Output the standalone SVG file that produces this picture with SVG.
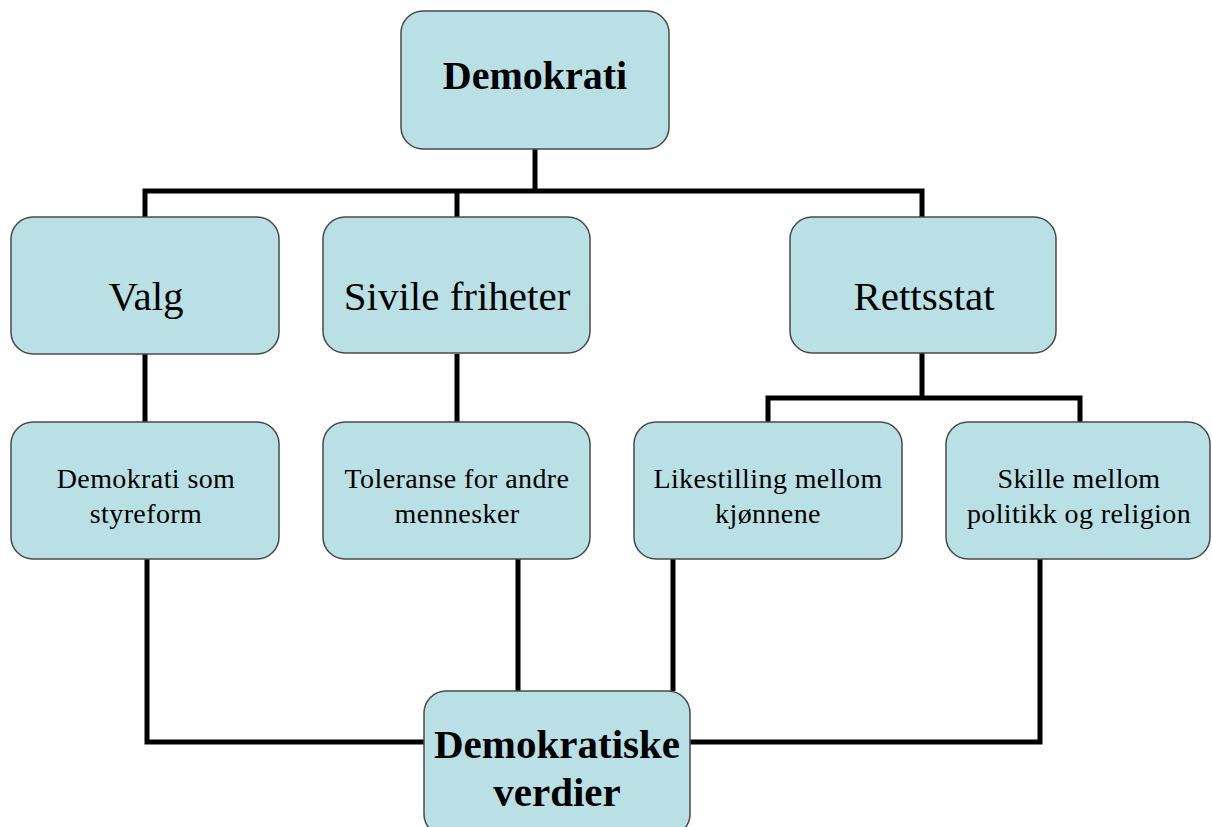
<svg xmlns="http://www.w3.org/2000/svg" width="1212" height="827" viewBox="0 0 1212 827">
<style>
.box{fill:#b9e0e4;stroke:#4a4a4a;stroke-width:1.5}
.con{fill:none;stroke:#000;stroke-width:5;stroke-linejoin:miter}
text{font-family:"Liberation Serif","Times New Roman",serif;fill:#000;text-anchor:middle}
.b{font-weight:bold;font-size:40px}
.big{font-size:41px}
.sm{font-size:28px;letter-spacing:0.4px}
</style>
<rect width="1212" height="827" fill="#fff"/>
<g id="connectors">
<path class="con" d="M535,149 V191 M145,217 V191 H922 V217 M457,191 V217"/>
<path class="con" d="M145,354 V422 M457,354 V422"/>
<path class="con" d="M922,353 V398 M768,422 V398 H1080 V422"/>
<path class="con" d="M147,559 V742 H424 M1040,559 V742 H690"/>
<path class="con" d="M518,559 V691 M673,559 V691"/>
</g>
<g id="demokrati"><rect class="box" x="401" y="11" width="268" height="138" rx="22"/><text class="b" x="535" y="89">Demokrati</text></g>
<g id="valg"><rect class="box" x="11" y="217" width="268" height="137" rx="22"/><text class="big" x="146" y="310">Valg</text></g>
<g id="sivile"><rect class="box" x="323" y="217" width="267" height="136" rx="22"/><text class="big" x="457" y="310">Sivile friheter</text></g>
<g id="rettsstat"><rect class="box" x="790" y="217" width="266" height="136" rx="22"/><text class="big" x="924" y="310">Rettsstat</text></g>
<g id="styreform"><rect class="box" x="11" y="422" width="268" height="137" rx="22"/><text class="sm" x="146" y="488">Demokrati som</text><text class="sm" x="146" y="523">styreform</text></g>
<g id="toleranse"><rect class="box" x="323" y="422" width="267" height="137" rx="22"/><text class="sm" x="457" y="488">Toleranse for andre</text><text class="sm" x="457" y="523">mennesker</text></g>
<g id="likestilling"><rect class="box" x="634" y="422" width="268" height="137" rx="22"/><text class="sm" x="768" y="488">Likestilling mellom</text><text class="sm" x="768" y="523">kjønnene</text></g>
<g id="skille"><rect class="box" x="946" y="422" width="264" height="137" rx="22"/><text class="sm" x="1079" y="488">Skille mellom</text><text class="sm" x="1079" y="523">politikk og religion</text></g>
<g id="verdier"><rect class="box" x="424" y="691" width="266" height="145" rx="22"/><text class="b" x="557" y="758" style="font-size:41px">Demokratiske</text><text class="b" x="557" y="806" style="font-size:41px">verdier</text></g>
</svg>
